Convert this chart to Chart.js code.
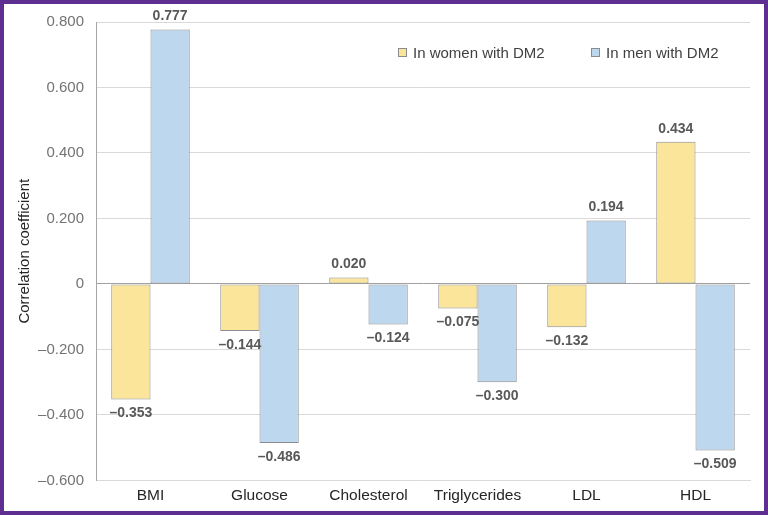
<!DOCTYPE html>
<html>
<head>
<meta charset="utf-8">
<script src="https://cdn.jsdelivr.net/npm/chart.js@4"></script>
<style>
  html, body { margin: 0; padding: 0; background: #fff; }
  #frame {
    position: relative;
    width: 768px; height: 515px;
    box-sizing: border-box;
    border: 4px solid #5e2e91;
    background: #fff;
  }
  #chart { display: block; }
  .legend {
    position: absolute; top: 40px;
    font: 15px "Liberation Sans", Arial, sans-serif; color: #404040;
    display: flex; align-items: center;
  }
  .legend i {
    display: inline-block; width: 7px; height: 7px;
    border: 1px solid #8c8c8c; margin-right: 6px;
  }
</style>
</head>
<body>
<div id="frame">
  <canvas id="chart" width="760" height="507"></canvas>
  <div class="legend" style="left:394px"><i style="background:#fbe59a"></i>In women with DM2</div>
  <div class="legend" style="left:587px"><i style="background:#bdd7ee"></i>In men with DM2</div>
</div>
<script>
// ── data ──
const categories = ['BMI', 'Glucose', 'Cholesterol', 'Triglycerides', 'LDL', 'HDL'];
const women = [-0.353, -0.144, 0.020, -0.075, -0.132, 0.434];
const men = [0.777, -0.486, -0.124, -0.300, 0.194, -0.509];

const FONT = "'Liberation Sans', Arial, sans-serif";

function fmt(v, zeroAsInt) {
    if (zeroAsInt && Math.abs(v) < 1e-9) return '0';
    const s = Math.abs(v).toFixed(3);
    return v < 0 ? '\u2013' + s : s;
}

// value labels above / below each bar
const valueLabels = {
    id: 'valueLabels',
    afterDatasetsDraw(chart) {
        const ctx = chart.ctx;
        ctx.save();
        ctx.font = 'bold 14px ' + FONT;
        ctx.fillStyle = '#595959';
        ctx.textAlign = 'center';
        ctx.textBaseline = 'middle';
        chart.data.datasets.forEach((ds, di) => {
            chart.getDatasetMeta(di).data.forEach((bar, i) => {
                const v = ds.data[i];
                const y = v >= 0 ? bar.y - 13 : bar.y + 14;
                ctx.fillText(fmt(v, false), bar.x, y);
            });
        });
        ctx.restore();
    }
};

new Chart(document.getElementById('chart'), {
    type: 'bar',
    data: {
        labels: categories,
        datasets: [
            {
                label: 'In women with DM2',
                data: women,
                backgroundColor: '#fbe59a',
                borderColor: '#8c8c8c',
                borderWidth: 1,
                borderSkipped: false
            },
            {
                label: 'In men with DM2',
                data: men,
                backgroundColor: '#bdd7ee',
                borderColor: '#8c8c8c',
                borderWidth: 1,
                borderSkipped: false
            }
        ]
    },
    options: {
        responsive: false,
        animation: false,
        categoryPercentage: 0.72,
        barPercentage: 1.0,
        layout: { padding: { left: 8, right: 14, top: 18, bottom: 0 } },
        plugins: {
            legend: { display: false },
            tooltip: { enabled: false }
        },
        scales: {
            x: {
                grid: { display: false, drawTicks: false },
                border: { display: true, color: '#d9d9d9' },
                ticks: {
                    color: '#262626',
                    font: { family: FONT, size: 15.5 },
                    padding: 6
                }
            },
            y: {
                min: -0.6,
                max: 0.8,
                afterFit: (scale) => {
                    scale.width = 84;
                    scale.paddingTop = 0;
                    scale.paddingBottom = 0;
                },
                ticks: {
                    stepSize: 0.2,
                    color: '#737373',
                    font: { family: FONT, size: 15 },
                    padding: 12,
                    callback: (v) => fmt(v, true)
                },
                grid: {
                    drawTicks: false,
                    color: (c) => Math.abs(c.tick.value) < 1e-9 ? '#a0a0a0' : '#d9d9d9'
                },
                border: { display: true, color: '#a6a6a6' },
                title: {
                    display: true,
                    text: 'Correlation coefficient',
                    color: '#262626',
                    font: { family: FONT, size: 15 },
                    padding: { top: 4, bottom: 0 }
                }
            }
        }
    },
    plugins: [valueLabels]
});
</script>
</body>
</html>
